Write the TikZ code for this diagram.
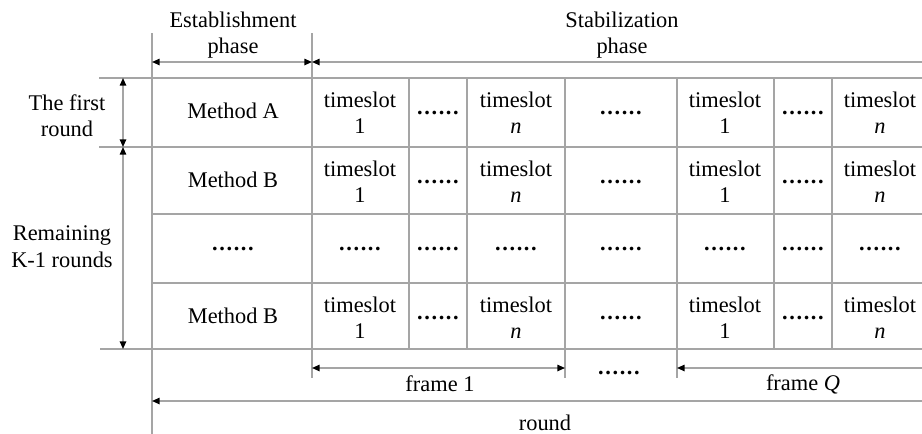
\documentclass[tikz,border=0pt]{standalone}
\usepackage{fontspec}
\setmainfont{Liberation Serif}
\usetikzlibrary{arrows.meta}
\definecolor{rule}{RGB}{165,165,165}
% six heavy, slightly spread dots used as a gap marker
\newcommand\gapdots{\textbf{.\kern0.8pt.\kern0.8pt.\kern0.8pt.\kern0.8pt.\kern0.8pt.}}
\begin{document}
\begin{tikzpicture}[x=0.5pt,y=-0.5pt,
  >={Triangle[length=3.8pt,width=3.2pt,color=black]},
  gridline/.style={draw=rule,line width=0.7pt},
  dimline/.style={draw=rule,line width=0.7pt},
  txt/.style={font=\fontsize{11.2}{13.4}\selectfont,inner sep=0pt,anchor=base},
]
\useasboundingbox (0,0) rectangle (922,434);

% horizontal rules of the table
\foreach \y/\xa [count=\i] in {78/99,147/99,214/152,283/152,349/100}{
  \coordinate (hl\i) at (\xa,\y);
  \coordinate (hr\i) at (922,\y);
  \draw[gridline] (hl\i) -- (hr\i);
}
% vertical rules of the table
\foreach \x/\ya/\yb [count=\i] in {152/33/434,312/33/378,409/78/349,467/78/349,
                                   565/78/378,677/78/378,774/78/349,832/78/349}{
  \coordinate (vt\i) at (\x,\ya);
  \coordinate (vb\i) at (\x,\yb);
  \draw[gridline] (vt\i) -- (vb\i);
}

% dimension arrows
\coordinate (estL) at (152,62);
\coordinate (estR) at (312,62);
\coordinate (stabR) at (922,62);
\draw[dimline,<->] (estL) -- (estR);
\draw[dimline,<-] (estR) -- (stabR);

\coordinate (rnd0) at (123,78);
\coordinate (rnd1) at (123,147);
\coordinate (rnd2) at (123,349);
\draw[dimline,<->] (rnd0) -- (rnd1);
\draw[dimline,<->] (rnd1) -- (rnd2);

\coordinate (f1L) at (312,368);
\coordinate (f1R) at (565,368);
\coordinate (fQL) at (677,368);
\coordinate (fQR) at (922,368);
\draw[dimline,<->] (f1L) -- (f1R);
\draw[dimline,<-] (fQL) -- (fQR);

\coordinate (roundL) at (152,401);
\coordinate (roundR) at (922,401);
\draw[dimline,<-] (roundL) -- (roundR);

% headings
\node[txt] (estA) at (233,27) {Establishment};
\node[txt] (estB) at (233,53) {phase};
\node[txt] (stabA) at (622,27) {Stabilization};
\node[txt] (stabB) at (622,53) {phase};

\node[txt] (firstA) at (67,110) {The first};
\node[txt] (firstB) at (67,136) {round};
\node[txt] (remA) at (62,240) {Remaining};
\node[txt] (remB) at (62,267) {K-1 rounds};

% first column
\node[txt] (mA) at (233,118) {Method A};
\node[txt] (mB1) at (233,187) {Method B};
\node[txt] (mdots) at (233,250) {\gapdots};
\node[txt] (mB2) at (233,323) {Method B};

% time slot cells
\foreach \t [count=\r] in {78,147,283}{
  \foreach \x/\lab [count=\c] in {360/1,516/\textit{n},725/1,880/\textit{n}}{
    \node[txt] (ts\r\c a) at (\x,\t+29) {timeslot};
    \node[txt] (ts\r\c b) at (\x,\t+55) {\lab};
  }
  \foreach \x [count=\c] in {438,621,803}{
    \node[txt] (gap\r\c) at (\x,\t+36) {\gapdots};
  }
}
% row of gaps
\foreach \x [count=\c] in {360,438,516,621,725,803,880}{
  \node[txt] (mid\c) at (\x,250) {\gapdots};
}

% frames and round
\node[txt] (f1) at (440,391) {frame 1};
\node[txt] (fdots) at (619,374) {\gapdots};
\node[txt] (fQ) at (803,390) {frame \textit{Q}};
\node[txt] (rnd) at (545,430) {round};
\end{tikzpicture}
\end{document}
